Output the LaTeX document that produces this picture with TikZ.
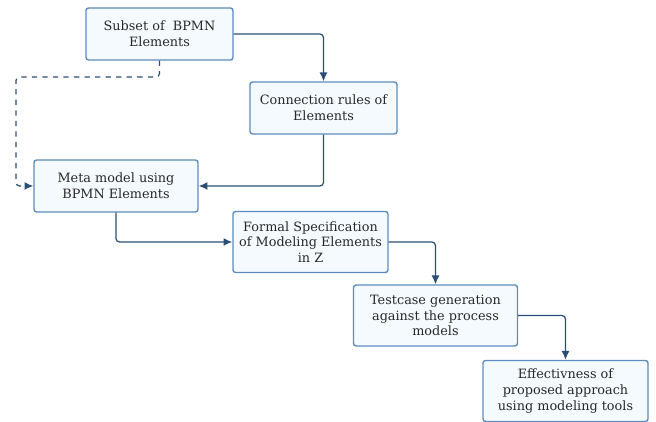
\documentclass[tikz,border=0pt]{standalone}
\usepackage{fontspec}
\setmainfont{DejaVu Serif}
\usetikzlibrary{shapes,arrows,arrows.meta,positioning,calc}
\definecolor{boxfill}{RGB}{245,250,255}
\definecolor{boxline}{RGB}{92,140,190}
\definecolor{flowblue}{RGB}{42,78,117}
\definecolor{textgray}{RGB}{40,40,40}

\tikzset{
    stepbox/.style={draw=boxline, fill=boxfill, line width=0.8pt, rounded corners=1.5pt,
        align=center, text=textgray, font=\fontsize{7.3}{9}\selectfont, inner sep=2pt},
    flow/.style={-{Latex[length=5pt,width=4.5pt]}, draw=flowblue, line width=0.7pt, rounded corners=2pt}
}

\begin{document}
\begin{tikzpicture}
    \useasboundingbox (0,0) rectangle (13.12,8.44);
    \node[stepbox, minimum width=2.94cm, minimum height=1.04cm] (subset) at (3.19,7.76) {Subset of \ BPMN\\Elements};
    \node[stepbox, minimum width=2.94cm, minimum height=1.04cm] (rules) at (6.47,6.28) {Connection rules of\\Elements};
    \node[stepbox, minimum width=3.28cm, minimum height=1.04cm] (meta) at (2.32,4.72) {Meta model using\\BPMN Elements};
    \node[stepbox, minimum width=3.10cm, minimum height=1.22cm] (formal) at (6.21,3.60) {Formal Specification\\of Modeling Elements\\in Z};
    \node[stepbox, minimum width=3.28cm, minimum height=1.22cm] (testcase) at (8.71,2.13) {Testcase generation\\against the process\\models};
    \node[stepbox, minimum width=3.30cm, minimum height=1.22cm] (effect) at (11.31,0.62) {Effectivness of\\proposed approach\\using modeling tools};
    \coordinate (dashbend) at (0.32,6.9);
    \draw[flow] (subset) -| (rules);
    \draw[flow, dashed] (subset.south) |- (dashbend) |- (meta.west);
    \draw[flow] (rules.south) |- (meta.east);
    \draw[flow] (meta.south) |- (formal.west);
    \draw[flow] (formal.east) -| (testcase.north);
    \draw[flow] (testcase.east) -| (effect.north);
\end{tikzpicture}
\end{document}
